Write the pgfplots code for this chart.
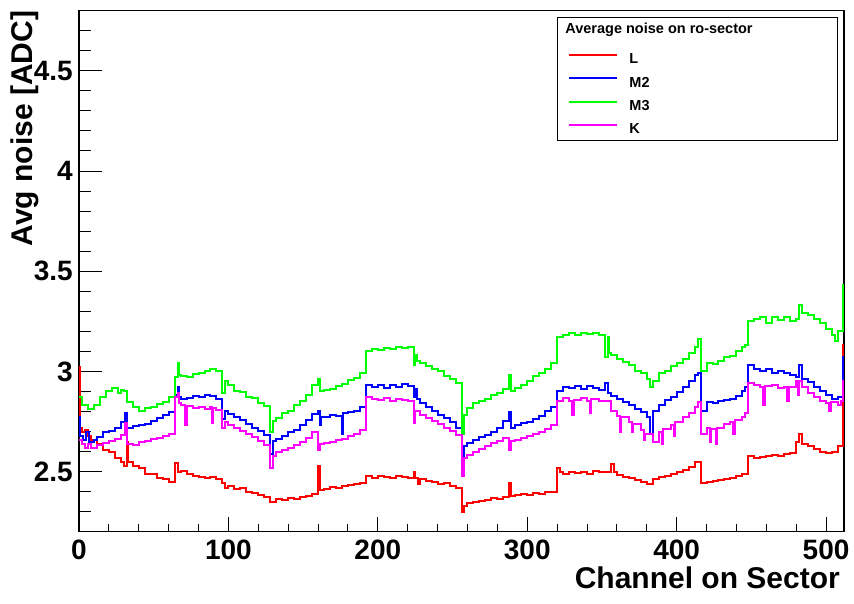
\documentclass[border=0pt]{standalone}
\usepackage{pgfplots}
\pgfplotsset{compat=1.18}
\usepackage{fontspec}
\setmainfont{Liberation Sans}
\definecolor{rootred}{RGB}{255,0,0}
\definecolor{rootblue}{RGB}{0,0,255}
\definecolor{rootgreen}{RGB}{0,255,0}
\definecolor{rootmag}{RGB}{255,0,255}
\newcommand{\bigfnt}{\fontsize{28}{30}\selectfont\bfseries}
\newcommand{\labfnt}{\fontsize{30}{32}\selectfont\bfseries}
\newcommand{\legfnt}{\fontsize{14.5}{17}\selectfont\bfseries}
\begin{document}
\begin{tikzpicture}
\begin{axis}[name=main,
  width=765pt, height=521pt, scale only axis,
  xmin=0, xmax=512, ymin=2.2, ymax=4.8,
  tick pos=left, tick align=inside,
  xtick={0,100,...,500}, major x tick style={draw=none},
  ytick={2.5,3,3.5,4,4.5}, minor ytick={2.3,2.4,2.6,2.7,2.8,2.9,3.1,3.2,3.3,3.4,3.6,3.7,3.8,3.9,4.1,4.2,4.3,4.4,4.6,4.7},
  major tick length=22.7pt, minor tick length=11.7pt,
  tick style={black, line width=1pt},
  axis line style={line width=1.1pt},
  /pgf/number format/assume math mode=true,
  ticklabel style={font=\bigfnt},
  yticklabel style={inner sep=0pt, xshift=-6pt},
  xticklabel style={inner sep=0pt, yshift=-8pt},
  xlabel={Channel on Sector},
  xlabel style={font=\labfnt, at={(axis description cs:1,0)}, anchor=north east, inner sep=0pt, yshift=-35pt, xshift=-4pt},
  ylabel={Avg noise [ADC]},
  ylabel style={font=\labfnt, at={(axis description cs:-0.0706,1)}, anchor=east, inner sep=0pt},
  legend cell align=left,
  legend style={at={(rel axis cs:0.6248,0.9879)}, anchor=north west, draw=black, line width=0.9pt, fill=white,
    font=\legfnt, inner xsep=11pt, inner ysep=5.5pt, row sep=10.7pt, column sep=11pt, nodes={inner sep=0pt}},
  legend image code/.code={\draw[#1, line width=2pt] (0pt,4pt) -- (48pt,4pt);},
  every axis plot/.append style={line width=2pt, const plot mark left, no marks},
]
\addlegendimage{legend image code/.code={\path[draw=none, fill=none] (0pt,-13pt) rectangle (0pt,0pt);}}
\addlegendentry{\hspace*{-64pt}\rule{0pt}{11pt}Average noise on ro-sector}

\addplot[rootred] coordinates {
(0,3.02) (1,2.72) (2,2.70) (4,2.71) (6,2.68) (8,2.66) (12,2.64) (16,2.61) (20,2.60) (24,2.57) (28,2.55) (30,2.53)
(32,2.65) (33,2.55) (36,2.53) (40,2.52) (44,2.49) (48,2.49) (52,2.47) (56,2.465) (60,2.45)
(64,2.545) (66,2.50) (68,2.505) (72,2.49) (76,2.48) (80,2.475) (84,2.47) (88,2.475) (92,2.465)
(96,2.445) (98,2.42) (100,2.43) (104,2.415) (108,2.42) (112,2.40) (116,2.395) (120,2.385) (124,2.375)
(128,2.35) (132,2.365) (136,2.36) (140,2.37) (144,2.365) (148,2.375) (152,2.38) (156,2.39)
(160,2.53) (161,2.41) (164,2.415) (168,2.425) (172,2.42) (176,2.43) (180,2.435) (184,2.44) (188,2.445)
(192,2.48) (196,2.47) (200,2.48) (204,2.475) (208,2.47) (212,2.48) (216,2.475) (220,2.47)
(224,2.50) (225,2.47) (227,2.44) (228,2.465) (232,2.455) (236,2.45) (240,2.44) (244,2.445) (248,2.43) (252,2.42)
(256,2.30) (258,2.33) (260,2.345) (264,2.35) (268,2.355) (272,2.36) (276,2.37) (280,2.365) (284,2.375)
(288,2.445) (289,2.38) (292,2.385) (296,2.39) (300,2.385) (304,2.395) (308,2.39) (312,2.40) (316,2.40)
(320,2.52) (322,2.50) (324,2.49) (328,2.50) (332,2.495) (336,2.50) (340,2.49) (344,2.505) (348,2.50)
(352,2.50) (356,2.54) (358,2.50) (360,2.485) (364,2.475) (368,2.47) (372,2.46) (376,2.45) (380,2.44)
(384,2.465) (388,2.475) (392,2.48) (396,2.49) (400,2.50) (404,2.51) (408,2.525) (412,2.55)
(416,2.445) (420,2.45) (424,2.455) (428,2.46) (432,2.465) (436,2.47) (440,2.48) (444,2.49)
(448,2.58) (452,2.57) (456,2.575) (460,2.58) (464,2.585) (468,2.58) (472,2.59) (476,2.595)
(480,2.65) (482,2.69) (484,2.64) (488,2.63) (492,2.615) (496,2.60) (500,2.595) (504,2.60) (508,2.63)
(511,3.13) (512,3.13)
};
\addlegendentry{\makebox[197pt][l]{\rule{0pt}{11pt}L}}

\addplot[rootblue] coordinates {
(0,2.77) (1,2.68) (3,2.66) (5,2.70) (7,2.65) (10,2.66) (12,2.675) (16,2.70) (20,2.705) (24,2.72) (28,2.745) (31,2.79)
(32,2.72) (36,2.725) (40,2.73) (44,2.735) (48,2.75) (52,2.765) (56,2.78) (60,2.795)
(64,2.88) (66,2.92) (67,2.87) (68,2.86) (72,2.865) (76,2.875) (80,2.87) (84,2.88) (88,2.875) (92,2.86)
(96,2.76) (98,2.80) (100,2.785) (104,2.77) (108,2.755) (112,2.735) (116,2.72) (120,2.705) (124,2.685)
(128,2.59) (130,2.655) (132,2.665) (136,2.68) (140,2.70) (144,2.71) (148,2.73) (152,2.755) (156,2.785)
(160,2.80) (161,2.73) (162,2.77) (164,2.77) (168,2.78) (172,2.775) (176,2.69) (177,2.79) (180,2.795) (184,2.80) (188,2.82)
(192,2.93) (196,2.92) (200,2.93) (204,2.915) (208,2.93) (212,2.92) (216,2.935) (220,2.925)
(224,2.87) (225,2.91) (226,2.86) (228,2.84) (232,2.82) (236,2.80) (240,2.78) (244,2.765) (248,2.745) (252,2.72)
(256,2.52) (258,2.63) (260,2.645) (264,2.66) (268,2.675) (272,2.685) (276,2.70) (280,2.72) (284,2.75)
(288,2.795) (289,2.72) (292,2.73) (296,2.74) (300,2.745) (304,2.76) (308,2.775) (312,2.80) (316,2.82)
(320,2.90) (324,2.92) (328,2.915) (332,2.925) (336,2.91) (340,2.925) (344,2.915) (348,2.905)
(352,2.94) (354,2.89) (356,2.875) (360,2.86) (364,2.845) (368,2.83) (372,2.81) (376,2.795) (380,2.77)
(382,2.69) (384,2.80) (388,2.83) (392,2.855) (396,2.87) (400,2.895) (404,2.92) (408,2.95) (412,2.98) (414,2.99)
(416,2.80) (420,2.845) (424,2.84) (428,2.85) (432,2.855) (436,2.86) (440,2.875) (444,2.90) (446,2.92)
(448,3.03) (452,3.01) (456,3.00) (460,3.01) (464,2.99) (468,3.00) (472,2.99) (476,2.98)
(480,2.97) (482,3.03) (484,2.96) (488,2.945) (492,2.92) (496,2.90) (500,2.88) (504,2.86) (508,2.87)
(511,3.07) (512,3.07)
};
\addlegendentry{\rule{0pt}{11pt}M2}

\addplot[rootgreen] coordinates {
(0,2.87) (2,2.83) (6,2.81) (10,2.83) (14,2.87) (18,2.90) (22,2.915) (26,2.89) (28,2.905) (30,2.90)
(32,2.845) (36,2.82) (40,2.80) (44,2.815) (48,2.82) (52,2.835) (56,2.845) (60,2.87)
(64,2.97) (66,3.04) (67,2.98) (68,2.975) (72,2.97) (76,2.985) (80,2.99) (84,3.00) (88,3.01) (92,3.00)
(96,2.89) (98,2.95) (100,2.93) (104,2.90) (108,2.895) (112,2.87) (116,2.865) (120,2.84) (124,2.825)
(128,2.70) (130,2.75) (132,2.765) (136,2.79) (140,2.80) (144,2.83) (148,2.85) (152,2.88) (156,2.93)
(160,2.96) (161,2.90) (164,2.905) (168,2.91) (172,2.925) (176,2.935) (180,2.955) (184,2.965) (188,2.99)
(192,3.10) (196,3.11) (200,3.105) (204,3.115) (208,3.11) (212,3.12) (216,3.115) (220,3.12)
(224,3.03) (225,3.08) (226,3.05) (228,3.04) (232,3.025) (236,3.01) (240,3.00) (244,2.975) (248,2.96) (252,2.94)
(256,2.69) (258,2.78) (260,2.815) (264,2.84) (268,2.85) (272,2.86) (276,2.88) (280,2.89) (284,2.91)
(288,2.98) (289,2.90) (292,2.915) (296,2.93) (300,2.95) (304,2.975) (308,2.99) (312,3.01) (316,3.04)
(320,3.17) (324,3.18) (328,3.19) (332,3.18) (336,3.19) (340,3.185) (344,3.19) (348,3.18)
(352,3.07) (354,3.17) (355,3.09) (356,3.08) (360,3.06) (364,3.045) (368,3.03) (372,3.00) (376,2.99) (380,2.96)
(382,2.92) (384,2.95) (388,2.99) (392,3.00) (396,3.025) (400,3.04) (404,3.06) (408,3.09) (412,3.12) (414,3.16)
(416,3.00) (420,3.04) (424,3.035) (428,3.05) (432,3.07) (436,3.075) (440,3.10) (444,3.12) (446,3.13)
(448,3.25) (452,3.26) (456,3.27) (460,3.24) (464,3.27) (468,3.255) (472,3.27) (476,3.25)
(480,3.26) (482,3.33) (484,3.29) (488,3.28) (492,3.26) (496,3.24) (500,3.21) (504,3.18) (506,3.15) (508,3.20)
(511,3.43) (512,3.43)
};
\addlegendentry{\rule{0pt}{11pt}M3}

\addplot[rootmag] coordinates {
(0,2.66) (2,2.64) (4,2.62) (6,2.64) (8,2.62) (12,2.635) (16,2.645) (20,2.655) (24,2.665) (28,2.685) (31,2.74)
(32,2.64) (36,2.635) (40,2.65) (44,2.655) (48,2.665) (52,2.67) (56,2.68) (60,2.69)
(64,2.87) (66,2.89) (67,2.84) (68,2.83) (71,2.73) (72,2.825) (76,2.815) (80,2.82) (84,2.81) (88,2.82) (89,2.74) (90,2.815) (92,2.805)
(96,2.72) (98,2.745) (100,2.73) (104,2.72) (108,2.705) (112,2.69) (116,2.675) (120,2.655) (124,2.635)
(128,2.52) (130,2.58) (132,2.60) (136,2.61) (140,2.62) (144,2.635) (148,2.65) (152,2.67) (156,2.70)
(160,2.61) (161,2.64) (164,2.645) (168,2.65) (172,2.66) (176,2.665) (180,2.68) (184,2.69) (188,2.71)
(192,2.87) (196,2.86) (200,2.855) (204,2.865) (208,2.85) (212,2.86) (216,2.855) (220,2.85)
(224,2.74) (225,2.80) (228,2.78) (232,2.765) (236,2.75) (240,2.735) (244,2.72) (248,2.705) (252,2.685)
(256,2.48) (258,2.57) (260,2.585) (264,2.60) (268,2.615) (272,2.63) (276,2.645) (280,2.655) (284,2.67)
(288,2.61) (289,2.655) (292,2.66) (296,2.67) (300,2.68) (304,2.69) (308,2.70) (312,2.715) (316,2.73)
(320,2.85) (324,2.865) (328,2.85) (330,2.78) (331,2.855) (336,2.865) (340,2.85) (342,2.79) (343,2.86) (348,2.85)
(352,2.85) (356,2.80) (360,2.775) (362,2.70) (363,2.77) (368,2.745) (370,2.70) (371,2.735) (376,2.71) (378,2.66) (379,2.69)
(384,2.65) (388,2.70) (390,2.64) (391,2.715) (396,2.73) (398,2.68) (399,2.745) (404,2.77) (408,2.79) (412,2.82) (414,2.845)
(416,2.69) (420,2.72) (422,2.65) (423,2.715) (426,2.64) (427,2.72) (432,2.735) (436,2.745) (438,2.69) (439,2.755) (444,2.77) (446,2.79)
(448,2.94) (452,2.93) (456,2.92) (458,2.83) (459,2.925) (464,2.93) (468,2.915) (472,2.92) (474,2.85) (475,2.92)
(480,2.95) (481,2.88) (482,2.95) (484,2.92) (488,2.89) (492,2.87) (496,2.85) (500,2.84) (502,2.80) (503,2.845) (508,2.83) (510,2.85)
(511,2.95) (512,2.95)
};
\addlegendentry{\rule{0pt}{11pt}K}
\end{axis}

\begin{axis}[width=765pt, height=521pt, scale only axis,
  xmin=0, xmax=512, ymin=2.2, ymax=4.8,
  axis x line*=bottom, axis y line=none, tick align=inside,
  xtick={0,100,...,500}, minor xtick={20,40,60,80,120,140,160,180,220,240,260,280,320,340,360,380,420,440,460,480},
  xticklabels={}, major tick length=15pt, minor tick length=8pt,
  tick style={black, line width=1pt}, axis line style={line width=1.1pt}]
\addplot[draw=none] coordinates {(0,3)};
\end{axis}
\pgfresetboundingbox
\path ([xshift=-79pt,yshift=-71.3pt]main.south west) rectangle ([xshift=10pt,yshift=10.7pt]main.north east);
\end{tikzpicture}
\end{document}
